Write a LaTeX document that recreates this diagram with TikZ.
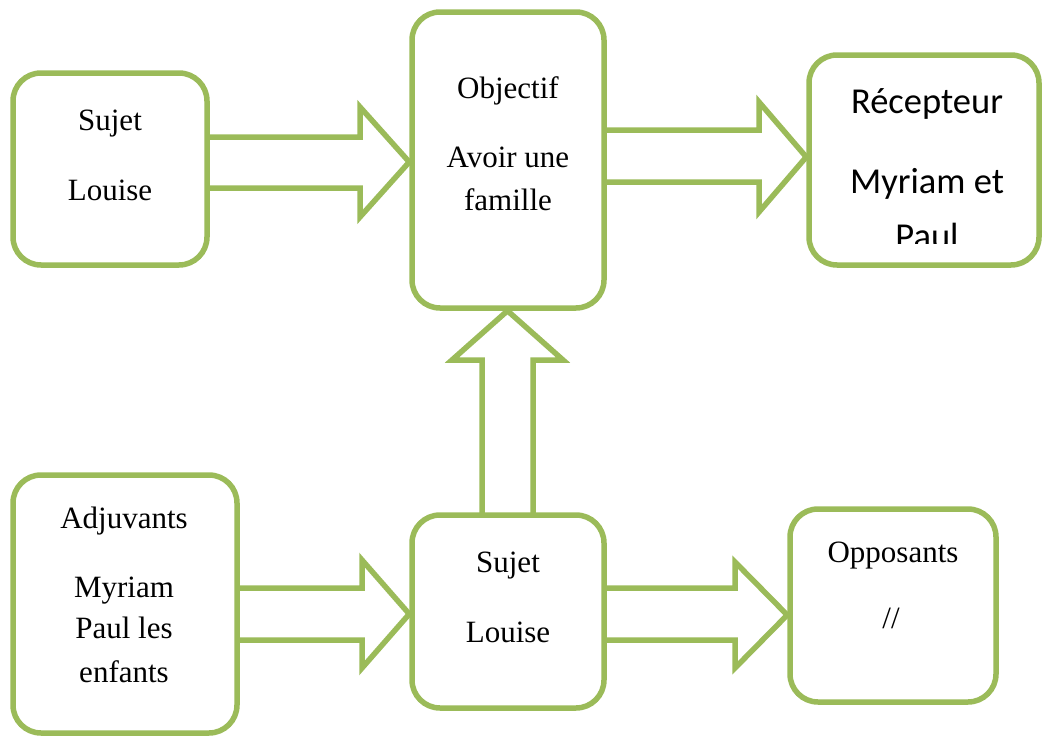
\documentclass[tikz,border=0pt]{standalone}
\usepackage{fontspec}
\setmainfont{Liberation Serif}
\newfontfamily\calfont{Carlito}
\definecolor{boxgreen}{HTML}{9BBB59}
\begin{document}
\begin{tikzpicture}[x=1pt,y=-1pt,
  box/.style={draw=boxgreen, line width=5.5pt, rounded corners=28pt, fill=white, inner sep=0pt},
  blk/.style={draw=boxgreen, line width=5.5pt, fill=white, line join=miter},
  txt/.style={anchor=base, font=\fontsize{31}{36}\selectfont, inner sep=0pt},
  ctxt/.style={anchor=base, font=\calfont\fontsize{36.5}{44}\selectfont, inner sep=0pt}]
\useasboundingbox (0,0) rectangle (1042,736);
% boxes (positions only, drawn after arrows)
\path (110,169) node[box, draw=none, fill=none, minimum width=194pt, minimum height=192pt] (s1) {};
\path (508,160) node[box, draw=none, fill=none, minimum width=192pt, minimum height=296pt] (obj) {};
\path (924,160) node[box, draw=none, fill=none, minimum width=230pt, minimum height=210pt] (rec) {};
\path (125,604) node[box, draw=none, fill=none, minimum width=224pt, minimum height=258pt] (adj) {};
\path (508,611.5) node[box, draw=none, fill=none, minimum width=192pt, minimum height=193pt] (s2) {};
\path (893,605.5) node[box, draw=none, fill=none, minimum width=206pt, minimum height=193pt] (opp) {};
% block arrows
\draw[blk] (s1.center |- 0,137) -- (360,137) -- (360,107) -- (obj.west |- 0,162) -- (360,217) -- (360,188) -- (s1.center |- 0,188);
\draw[blk] (obj.center |- 0,130) -- (759,130) -- (759,102) -- (rec.west |- 0,157) -- (759,212) -- (759,182) -- (obj.center |- 0,182);
\draw[blk] (adj.center |- 0,588) -- (362,588) -- (362,560) -- (s2.west |- 0,614) -- (362,668) -- (362,640) -- (adj.center |- 0,640);
\draw[blk] (s2.center |- 0,588) -- (735,588) -- (735,562) -- (opp.west |- 0,615) -- (735,668) -- (735,640) -- (s2.center |- 0,640);
\draw[blk] (482,0 |- s2.center) -- (482,360) -- (452,360) -- (obj.south -| 507.5,0) -- (563,360) -- (533,360) -- (533,0 |- s2.center);
% boxes drawn
\foreach \n in {s1,obj,rec,adj,s2,opp}{
  \draw[draw=boxgreen, line width=5.5pt, rounded corners=28pt, fill=white]
    ([shift={(2.75pt,-2.75pt)}]\n.north west) rectangle ([shift={(-2.75pt,2.75pt)}]\n.south east);
}
% texts
\node[txt] (t1) at (110,130) {Sujet};
\node[txt] (t2) at (110,200) {Louise};
\node[txt] (t3) at (508,98) {Objectif};
\node[txt] (t4) at (508,167) {Avoir une};
\node[txt] (t5) at (508,210) {famille};
\node[ctxt] (t6) at (927,113) {Récepteur};
\node[ctxt] (t7) at (927,193) {Myriam et};
\begin{scope}
  \clip (800,50) rectangle (1042,243);
  \node[ctxt] (t8) at (927,248) {Paul};
\end{scope}
\node[txt] (t9) at (124,528) {Adjuvants};
\node[txt] (t10) at (124,597) {Myriam};
\node[txt] (t11) at (124,638) {Paul les};
\node[txt] (t12) at (124,682) {enfants};
\node[txt] (t13) at (508,572) {Sujet};
\node[txt] (t14) at (508,642) {Louise};
\node[txt] (t15) at (893,562) {Opposants};
\node[txt] (t16) at (891,628) {//};
\end{tikzpicture}
\end{document}
